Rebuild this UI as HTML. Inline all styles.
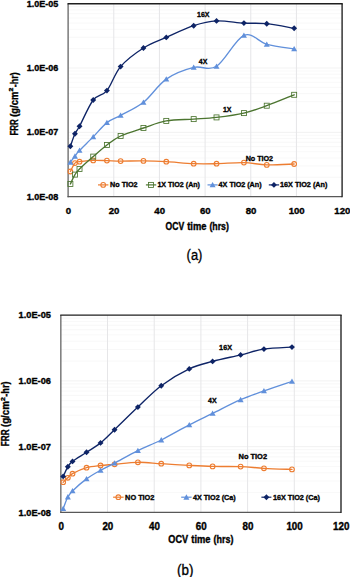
<!DOCTYPE html><html><head><meta charset="utf-8"><style>html,body{margin:0;padding:0;background:#fff;}svg{display:block;}</style></head><body><svg width="350" height="577" viewBox="0 0 350 577" font-family="'Liberation Sans', sans-serif" fill="#000"><rect width="350" height="577" fill="#fff"/><line x1="68.10" y1="177.33" x2="342.10" y2="177.33" stroke="#F4F4F4" stroke-width="0.6"/><line x1="68.10" y1="166.01" x2="342.10" y2="166.01" stroke="#F4F4F4" stroke-width="0.6"/><line x1="68.10" y1="157.97" x2="342.10" y2="157.97" stroke="#F4F4F4" stroke-width="0.6"/><line x1="68.10" y1="151.73" x2="342.10" y2="151.73" stroke="#F4F4F4" stroke-width="0.6"/><line x1="68.10" y1="146.64" x2="342.10" y2="146.64" stroke="#F4F4F4" stroke-width="0.6"/><line x1="68.10" y1="142.33" x2="342.10" y2="142.33" stroke="#F4F4F4" stroke-width="0.6"/><line x1="68.10" y1="138.60" x2="342.10" y2="138.60" stroke="#F4F4F4" stroke-width="0.6"/><line x1="68.10" y1="135.31" x2="342.10" y2="135.31" stroke="#F4F4F4" stroke-width="0.6"/><line x1="68.10" y1="132.37" x2="342.10" y2="132.37" stroke="#EAEAEA" stroke-width="0.6"/><line x1="68.10" y1="113.00" x2="342.10" y2="113.00" stroke="#F4F4F4" stroke-width="0.6"/><line x1="68.10" y1="101.67" x2="342.10" y2="101.67" stroke="#F4F4F4" stroke-width="0.6"/><line x1="68.10" y1="93.63" x2="342.10" y2="93.63" stroke="#F4F4F4" stroke-width="0.6"/><line x1="68.10" y1="87.40" x2="342.10" y2="87.40" stroke="#F4F4F4" stroke-width="0.6"/><line x1="68.10" y1="82.31" x2="342.10" y2="82.31" stroke="#F4F4F4" stroke-width="0.6"/><line x1="68.10" y1="78.00" x2="342.10" y2="78.00" stroke="#F4F4F4" stroke-width="0.6"/><line x1="68.10" y1="74.27" x2="342.10" y2="74.27" stroke="#F4F4F4" stroke-width="0.6"/><line x1="68.10" y1="70.98" x2="342.10" y2="70.98" stroke="#F4F4F4" stroke-width="0.6"/><line x1="68.10" y1="68.03" x2="342.10" y2="68.03" stroke="#EAEAEA" stroke-width="0.6"/><line x1="68.10" y1="48.67" x2="342.10" y2="48.67" stroke="#F4F4F4" stroke-width="0.6"/><line x1="68.10" y1="37.34" x2="342.10" y2="37.34" stroke="#F4F4F4" stroke-width="0.6"/><line x1="68.10" y1="29.30" x2="342.10" y2="29.30" stroke="#F4F4F4" stroke-width="0.6"/><line x1="68.10" y1="23.07" x2="342.10" y2="23.07" stroke="#F4F4F4" stroke-width="0.6"/><line x1="68.10" y1="17.97" x2="342.10" y2="17.97" stroke="#F4F4F4" stroke-width="0.6"/><line x1="68.10" y1="13.67" x2="342.10" y2="13.67" stroke="#F4F4F4" stroke-width="0.6"/><line x1="68.10" y1="9.93" x2="342.10" y2="9.93" stroke="#F4F4F4" stroke-width="0.6"/><line x1="68.10" y1="6.64" x2="342.10" y2="6.64" stroke="#F4F4F4" stroke-width="0.6"/><line x1="113.77" y1="3.70" x2="113.77" y2="196.70" stroke="#E6E6E8" stroke-width="1.0"/><line x1="159.43" y1="3.70" x2="159.43" y2="196.70" stroke="#E6E6E8" stroke-width="1.0"/><line x1="205.10" y1="3.70" x2="205.10" y2="196.70" stroke="#E6E6E8" stroke-width="1.0"/><line x1="250.77" y1="3.70" x2="250.77" y2="196.70" stroke="#E6E6E8" stroke-width="1.0"/><line x1="296.43" y1="3.70" x2="296.43" y2="196.70" stroke="#E6E6E8" stroke-width="1.0"/><line x1="68.10" y1="3.70" x2="68.10" y2="197.30" stroke="#585858" stroke-width="1.2"/><line x1="67.50" y1="196.70" x2="342.10" y2="196.70" stroke="#585858" stroke-width="1.2"/><line x1="67.50" y1="3.70" x2="342.75" y2="3.70" stroke="#1E1E1E" stroke-width="1.35"/><line x1="342.10" y1="3.70" x2="342.10" y2="197.35" stroke="#1E1E1E" stroke-width="1.35"/><path d="M70.38 171.50 C71.14 170.10 73.43 164.73 74.95 163.10 C76.47 161.47 76.47 162.15 79.52 161.70 C82.56 161.25 88.65 160.58 93.22 160.40 C97.78 160.22 102.35 160.48 106.92 160.60 C111.48 160.72 114.53 161.05 120.62 161.10 C126.71 161.15 135.84 160.80 143.45 160.90 C151.06 161.00 157.91 161.23 166.28 161.70 C174.66 162.17 185.31 163.37 193.68 163.70 C202.06 164.03 208.14 163.88 216.52 163.70 C224.89 163.52 235.54 162.40 243.92 162.60 C252.29 162.80 258.38 164.67 266.75 164.90 C275.12 165.13 289.58 164.15 294.15 164.00" fill="none" stroke="#ED7D31" stroke-width="1.35" stroke-linejoin="round" stroke-linecap="round"/><circle cx="70.38" cy="171.50" r="2.35" fill="none" stroke="#ED7D31" stroke-width="1.1"/><circle cx="74.95" cy="163.10" r="2.35" fill="none" stroke="#ED7D31" stroke-width="1.1"/><circle cx="79.52" cy="161.70" r="2.35" fill="none" stroke="#ED7D31" stroke-width="1.1"/><circle cx="93.22" cy="160.40" r="2.35" fill="none" stroke="#ED7D31" stroke-width="1.1"/><circle cx="106.92" cy="160.60" r="2.35" fill="none" stroke="#ED7D31" stroke-width="1.1"/><circle cx="120.62" cy="161.10" r="2.35" fill="none" stroke="#ED7D31" stroke-width="1.1"/><circle cx="143.45" cy="160.90" r="2.35" fill="none" stroke="#ED7D31" stroke-width="1.1"/><circle cx="166.28" cy="161.70" r="2.35" fill="none" stroke="#ED7D31" stroke-width="1.1"/><circle cx="193.68" cy="163.70" r="2.35" fill="none" stroke="#ED7D31" stroke-width="1.1"/><circle cx="216.52" cy="163.70" r="2.35" fill="none" stroke="#ED7D31" stroke-width="1.1"/><circle cx="243.92" cy="162.60" r="2.35" fill="none" stroke="#ED7D31" stroke-width="1.1"/><circle cx="266.75" cy="164.90" r="2.35" fill="none" stroke="#ED7D31" stroke-width="1.1"/><circle cx="294.15" cy="164.00" r="2.35" fill="none" stroke="#ED7D31" stroke-width="1.1"/><path d="M70.38 184.00 C71.14 182.43 73.43 177.10 74.95 174.60 C76.47 172.10 76.47 172.00 79.52 169.00 C82.56 166.00 88.65 160.60 93.22 156.60 C97.78 152.60 102.35 148.43 106.92 145.00 C111.48 141.57 114.53 138.83 120.62 136.00 C126.71 133.17 135.84 130.52 143.45 128.00 C151.06 125.48 157.91 122.38 166.28 120.90 C174.66 119.42 185.31 119.68 193.68 119.10 C202.06 118.52 208.14 118.40 216.52 117.40 C224.89 116.40 235.54 115.05 243.92 113.10 C252.29 111.15 258.38 108.75 266.75 105.70 C275.12 102.65 289.58 96.62 294.15 94.80" fill="none" stroke="#4C7530" stroke-width="1.35" stroke-linejoin="round" stroke-linecap="round"/><rect x="67.88" y="181.50" width="5.00" height="5.00" fill="none" stroke="#4C7530" stroke-width="0.85"/><rect x="72.45" y="172.10" width="5.00" height="5.00" fill="none" stroke="#4C7530" stroke-width="0.85"/><rect x="77.02" y="166.50" width="5.00" height="5.00" fill="none" stroke="#4C7530" stroke-width="0.85"/><rect x="90.72" y="154.10" width="5.00" height="5.00" fill="none" stroke="#4C7530" stroke-width="0.85"/><rect x="104.42" y="142.50" width="5.00" height="5.00" fill="none" stroke="#4C7530" stroke-width="0.85"/><rect x="118.12" y="133.50" width="5.00" height="5.00" fill="none" stroke="#4C7530" stroke-width="0.85"/><rect x="140.95" y="125.50" width="5.00" height="5.00" fill="none" stroke="#4C7530" stroke-width="0.85"/><rect x="163.78" y="118.40" width="5.00" height="5.00" fill="none" stroke="#4C7530" stroke-width="0.85"/><rect x="191.18" y="116.60" width="5.00" height="5.00" fill="none" stroke="#4C7530" stroke-width="0.85"/><rect x="214.02" y="114.90" width="5.00" height="5.00" fill="none" stroke="#4C7530" stroke-width="0.85"/><rect x="241.42" y="110.60" width="5.00" height="5.00" fill="none" stroke="#4C7530" stroke-width="0.85"/><rect x="264.25" y="103.20" width="5.00" height="5.00" fill="none" stroke="#4C7530" stroke-width="0.85"/><rect x="291.65" y="92.30" width="5.00" height="5.00" fill="none" stroke="#4C7530" stroke-width="0.85"/><path d="M70.38 162.20 C71.14 161.20 73.43 158.17 74.95 156.20 C76.47 154.23 76.47 153.62 79.52 150.40 C82.56 147.18 88.65 141.53 93.22 136.90 C97.78 132.27 102.35 126.18 106.92 122.60 C111.48 119.02 114.53 118.78 120.62 115.40 C126.71 112.02 135.84 108.35 143.45 102.30 C151.06 96.25 157.91 84.92 166.28 79.10 C174.66 73.28 185.31 69.53 193.68 67.40 C202.06 65.27 208.14 71.63 216.52 66.30 C224.89 60.97 235.54 39.07 243.92 35.40 C252.29 31.73 258.38 42.05 266.75 44.30 C275.12 46.55 289.58 48.13 294.15 48.90" fill="none" stroke="#6190DB" stroke-width="1.35" stroke-linejoin="round" stroke-linecap="round"/><path d="M70.38 159.30 L73.38 164.66 L67.38 164.66 Z" fill="#6190DB"/><path d="M74.95 153.30 L77.95 158.66 L71.95 158.66 Z" fill="#6190DB"/><path d="M79.52 147.50 L82.52 152.87 L76.52 152.87 Z" fill="#6190DB"/><path d="M93.22 134.00 L96.22 139.37 L90.22 139.37 Z" fill="#6190DB"/><path d="M106.92 119.70 L109.92 125.06 L103.92 125.06 Z" fill="#6190DB"/><path d="M120.62 112.50 L123.62 117.87 L117.62 117.87 Z" fill="#6190DB"/><path d="M143.45 99.40 L146.45 104.77 L140.45 104.77 Z" fill="#6190DB"/><path d="M166.28 76.20 L169.28 81.56 L163.28 81.56 Z" fill="#6190DB"/><path d="M193.68 64.50 L196.68 69.87 L190.68 69.87 Z" fill="#6190DB"/><path d="M216.52 63.40 L219.52 68.77 L213.52 68.77 Z" fill="#6190DB"/><path d="M243.92 32.50 L246.92 37.86 L240.92 37.86 Z" fill="#6190DB"/><path d="M266.75 41.40 L269.75 46.77 L263.75 46.77 Z" fill="#6190DB"/><path d="M294.15 46.00 L297.15 51.36 L291.15 51.36 Z" fill="#6190DB"/><path d="M70.38 146.20 C71.14 144.12 73.43 137.02 74.95 133.70 C76.47 130.38 76.47 131.92 79.52 126.30 C82.56 120.68 88.65 105.95 93.22 100.00 C97.78 94.05 102.35 96.17 106.92 90.60 C111.48 85.03 114.53 73.70 120.62 66.60 C126.71 59.50 135.84 52.87 143.45 48.00 C151.06 43.13 157.91 41.12 166.28 37.40 C174.66 33.68 185.31 28.45 193.68 25.70 C202.06 22.95 208.14 21.33 216.52 20.90 C224.89 20.47 235.54 22.63 243.92 23.10 C252.29 23.57 258.38 22.83 266.75 23.70 C275.12 24.57 289.58 27.53 294.15 28.30" fill="none" stroke="#0E2466" stroke-width="1.35" stroke-linejoin="round" stroke-linecap="round"/><path d="M70.38 143.25 L73.33 146.20 L70.38 149.15 L67.43 146.20 Z" fill="#0E2466"/><path d="M74.95 130.75 L77.90 133.70 L74.95 136.65 L72.00 133.70 Z" fill="#0E2466"/><path d="M79.52 123.35 L82.47 126.30 L79.52 129.25 L76.57 126.30 Z" fill="#0E2466"/><path d="M93.22 97.05 L96.17 100.00 L93.22 102.95 L90.27 100.00 Z" fill="#0E2466"/><path d="M106.92 87.65 L109.87 90.60 L106.92 93.55 L103.97 90.60 Z" fill="#0E2466"/><path d="M120.62 63.65 L123.57 66.60 L120.62 69.55 L117.67 66.60 Z" fill="#0E2466"/><path d="M143.45 45.05 L146.40 48.00 L143.45 50.95 L140.50 48.00 Z" fill="#0E2466"/><path d="M166.28 34.45 L169.23 37.40 L166.28 40.35 L163.33 37.40 Z" fill="#0E2466"/><path d="M193.68 22.75 L196.63 25.70 L193.68 28.65 L190.73 25.70 Z" fill="#0E2466"/><path d="M216.52 17.95 L219.47 20.90 L216.52 23.85 L213.57 20.90 Z" fill="#0E2466"/><path d="M243.92 20.15 L246.87 23.10 L243.92 26.05 L240.97 23.10 Z" fill="#0E2466"/><path d="M266.75 20.75 L269.70 23.70 L266.75 26.65 L263.80 23.70 Z" fill="#0E2466"/><path d="M294.15 25.35 L297.10 28.30 L294.15 31.25 L291.20 28.30 Z" fill="#0E2466"/><text x="26.70" y="6.77" font-size="9.40" font-weight="bold" text-anchor="start" textLength="31.50" lengthAdjust="spacingAndGlyphs" stroke="#000" stroke-width="0.36" >1.0E-05</text><text x="26.70" y="71.10" font-size="9.40" font-weight="bold" text-anchor="start" textLength="31.50" lengthAdjust="spacingAndGlyphs" stroke="#000" stroke-width="0.36" >1.0E-06</text><text x="26.70" y="135.43" font-size="9.40" font-weight="bold" text-anchor="start" textLength="31.50" lengthAdjust="spacingAndGlyphs" stroke="#000" stroke-width="0.36" >1.0E-07</text><text x="26.70" y="199.77" font-size="9.40" font-weight="bold" text-anchor="start" textLength="31.50" lengthAdjust="spacingAndGlyphs" stroke="#000" stroke-width="0.36" >1.0E-08</text><text x="65.67" y="213.80" font-size="9.80" font-weight="bold" text-anchor="start" textLength="5.35" lengthAdjust="spacingAndGlyphs" stroke="#000" stroke-width="0.36" >0</text><text x="108.67" y="213.80" font-size="9.80" font-weight="bold" text-anchor="start" textLength="10.70" lengthAdjust="spacingAndGlyphs" stroke="#000" stroke-width="0.36" >20</text><text x="154.33" y="213.80" font-size="9.80" font-weight="bold" text-anchor="start" textLength="10.70" lengthAdjust="spacingAndGlyphs" stroke="#000" stroke-width="0.36" >40</text><text x="200.00" y="213.80" font-size="9.80" font-weight="bold" text-anchor="start" textLength="10.70" lengthAdjust="spacingAndGlyphs" stroke="#000" stroke-width="0.36" >60</text><text x="245.67" y="213.80" font-size="9.80" font-weight="bold" text-anchor="start" textLength="10.70" lengthAdjust="spacingAndGlyphs" stroke="#000" stroke-width="0.36" >80</text><text x="288.66" y="213.80" font-size="9.80" font-weight="bold" text-anchor="start" textLength="16.05" lengthAdjust="spacingAndGlyphs" stroke="#000" stroke-width="0.36" >100</text><text x="334.33" y="213.80" font-size="9.80" font-weight="bold" text-anchor="start" textLength="16.05" lengthAdjust="spacingAndGlyphs" stroke="#000" stroke-width="0.36" >120</text><text x="165.60" y="229.60" font-size="10.00" font-weight="bold" text-anchor="start" textLength="18.60" lengthAdjust="spacingAndGlyphs" stroke="#000" stroke-width="0.36" >OCV</text><text x="187.20" y="229.60" font-size="10.00" font-weight="bold" text-anchor="start" textLength="19.30" lengthAdjust="spacingAndGlyphs" stroke="#000" stroke-width="0.36" >time</text><text x="209.40" y="229.60" font-size="10.00" font-weight="bold" text-anchor="start" textLength="19.50" lengthAdjust="spacingAndGlyphs" stroke="#000" stroke-width="0.36" >(hrs)</text><g transform="translate(17.70,135.60) rotate(-90)"><text x="0.00" y="0.00" font-size="10.20" font-weight="bold" text-anchor="start" textLength="16.40" lengthAdjust="spacingAndGlyphs" stroke="#000" stroke-width="0.36" >FRR</text><text x="18.80" y="0.00" font-size="10.20" font-weight="bold" text-anchor="start" textLength="25.20" lengthAdjust="spacingAndGlyphs" stroke="#000" stroke-width="0.36" >(g/cm</text><text x="48.40" y="0.00" font-size="10.20" font-weight="bold" text-anchor="start" textLength="14.90" lengthAdjust="spacingAndGlyphs" stroke="#000" stroke-width="0.36" >-hr)</text><text x="44.10" y="-4.30" font-size="5.60" font-weight="bold" text-anchor="start" textLength="3.80" lengthAdjust="spacingAndGlyphs" stroke="#000" stroke-width="0.36" >2</text></g><line x1="98.00" y1="184.90" x2="108.40" y2="184.90" stroke="#ED7D31" stroke-width="1.2"/><circle cx="103.20" cy="184.90" r="2.35" fill="none" stroke="#ED7D31" stroke-width="1.1"/><text x="110.00" y="187.20" font-size="8.00" font-weight="bold" text-anchor="start" textLength="27.60" lengthAdjust="spacingAndGlyphs" stroke="#000" stroke-width="0.36" >No TiO2</text><line x1="145.90" y1="184.90" x2="156.20" y2="184.90" stroke="#4C7530" stroke-width="1.2"/><rect x="148.55" y="182.40" width="5.00" height="5.00" fill="none" stroke="#4C7530" stroke-width="0.85"/><text x="157.40" y="187.20" font-size="8.00" font-weight="bold" text-anchor="start" textLength="42.60" lengthAdjust="spacingAndGlyphs" stroke="#000" stroke-width="0.36" >1X TiO2 (An)</text><line x1="207.50" y1="184.90" x2="217.70" y2="184.90" stroke="#6190DB" stroke-width="1.2"/><path d="M212.60 182.00 L215.60 187.37 L209.60 187.37 Z" fill="#6190DB"/><text x="218.60" y="187.20" font-size="8.00" font-weight="bold" text-anchor="start" textLength="43.00" lengthAdjust="spacingAndGlyphs" stroke="#000" stroke-width="0.36" >4X TiO2 (An)</text><line x1="268.80" y1="184.90" x2="279.10" y2="184.90" stroke="#0E2466" stroke-width="1.2"/><path d="M273.95 181.95 L276.90 184.90 L273.95 187.85 L271.00 184.90 Z" fill="#0E2466"/><text x="280.00" y="187.20" font-size="8.00" font-weight="bold" text-anchor="start" textLength="47.40" lengthAdjust="spacingAndGlyphs" stroke="#000" stroke-width="0.36" >16X TiO2 (An)</text><text x="197.00" y="16.90" font-size="8.00" font-weight="bold" text-anchor="start" textLength="12.40" lengthAdjust="spacingAndGlyphs" stroke="#000" stroke-width="0.36" >16X</text><text x="198.80" y="63.70" font-size="8.00" font-weight="bold" text-anchor="start" textLength="8.50" lengthAdjust="spacingAndGlyphs" stroke="#000" stroke-width="0.36" >4X</text><text x="222.90" y="111.80" font-size="8.00" font-weight="bold" text-anchor="start" textLength="8.50" lengthAdjust="spacingAndGlyphs" stroke="#000" stroke-width="0.36" >1X</text><text x="245.70" y="160.50" font-size="8.00" font-weight="bold" text-anchor="start" textLength="27.40" lengthAdjust="spacingAndGlyphs" stroke="#000" stroke-width="0.36" >No TiO2</text><text x="186.60" y="260.40" font-size="14.00" font-weight="normal" text-anchor="start" textLength="15.80" lengthAdjust="spacingAndGlyphs" stroke="#000" stroke-width="0.32" >(a)</text><line x1="60.85" y1="492.60" x2="341.00" y2="492.60" stroke="#F4F4F4" stroke-width="0.6"/><line x1="60.85" y1="481.02" x2="341.00" y2="481.02" stroke="#F4F4F4" stroke-width="0.6"/><line x1="60.85" y1="472.80" x2="341.00" y2="472.80" stroke="#F4F4F4" stroke-width="0.6"/><line x1="60.85" y1="466.43" x2="341.00" y2="466.43" stroke="#F4F4F4" stroke-width="0.6"/><line x1="60.85" y1="461.22" x2="341.00" y2="461.22" stroke="#F4F4F4" stroke-width="0.6"/><line x1="60.85" y1="456.82" x2="341.00" y2="456.82" stroke="#F4F4F4" stroke-width="0.6"/><line x1="60.85" y1="453.01" x2="341.00" y2="453.01" stroke="#F4F4F4" stroke-width="0.6"/><line x1="60.85" y1="449.64" x2="341.00" y2="449.64" stroke="#F4F4F4" stroke-width="0.6"/><line x1="60.85" y1="446.63" x2="341.00" y2="446.63" stroke="#EAEAEA" stroke-width="0.6"/><line x1="60.85" y1="426.84" x2="341.00" y2="426.84" stroke="#F4F4F4" stroke-width="0.6"/><line x1="60.85" y1="415.25" x2="341.00" y2="415.25" stroke="#F4F4F4" stroke-width="0.6"/><line x1="60.85" y1="407.04" x2="341.00" y2="407.04" stroke="#F4F4F4" stroke-width="0.6"/><line x1="60.85" y1="400.66" x2="341.00" y2="400.66" stroke="#F4F4F4" stroke-width="0.6"/><line x1="60.85" y1="395.46" x2="341.00" y2="395.46" stroke="#F4F4F4" stroke-width="0.6"/><line x1="60.85" y1="391.05" x2="341.00" y2="391.05" stroke="#F4F4F4" stroke-width="0.6"/><line x1="60.85" y1="387.24" x2="341.00" y2="387.24" stroke="#F4F4F4" stroke-width="0.6"/><line x1="60.85" y1="383.88" x2="341.00" y2="383.88" stroke="#F4F4F4" stroke-width="0.6"/><line x1="60.85" y1="380.87" x2="341.00" y2="380.87" stroke="#EAEAEA" stroke-width="0.6"/><line x1="60.85" y1="361.07" x2="341.00" y2="361.07" stroke="#F4F4F4" stroke-width="0.6"/><line x1="60.85" y1="349.49" x2="341.00" y2="349.49" stroke="#F4F4F4" stroke-width="0.6"/><line x1="60.85" y1="341.27" x2="341.00" y2="341.27" stroke="#F4F4F4" stroke-width="0.6"/><line x1="60.85" y1="334.90" x2="341.00" y2="334.90" stroke="#F4F4F4" stroke-width="0.6"/><line x1="60.85" y1="329.69" x2="341.00" y2="329.69" stroke="#F4F4F4" stroke-width="0.6"/><line x1="60.85" y1="325.29" x2="341.00" y2="325.29" stroke="#F4F4F4" stroke-width="0.6"/><line x1="60.85" y1="321.47" x2="341.00" y2="321.47" stroke="#F4F4F4" stroke-width="0.6"/><line x1="60.85" y1="318.11" x2="341.00" y2="318.11" stroke="#F4F4F4" stroke-width="0.6"/><line x1="107.54" y1="315.10" x2="107.54" y2="512.40" stroke="#E6E6E8" stroke-width="1.0"/><line x1="154.23" y1="315.10" x2="154.23" y2="512.40" stroke="#E6E6E8" stroke-width="1.0"/><line x1="200.92" y1="315.10" x2="200.92" y2="512.40" stroke="#E6E6E8" stroke-width="1.0"/><line x1="247.62" y1="315.10" x2="247.62" y2="512.40" stroke="#E6E6E8" stroke-width="1.0"/><line x1="294.31" y1="315.10" x2="294.31" y2="512.40" stroke="#E6E6E8" stroke-width="1.0"/><line x1="60.85" y1="315.10" x2="60.85" y2="513.00" stroke="#585858" stroke-width="1.2"/><line x1="60.25" y1="512.40" x2="341.00" y2="512.40" stroke="#585858" stroke-width="1.2"/><line x1="60.25" y1="315.10" x2="341.65" y2="315.10" stroke="#1E1E1E" stroke-width="1.35"/><line x1="341.00" y1="315.10" x2="341.00" y2="513.05" stroke="#1E1E1E" stroke-width="1.35"/><path d="M63.18 482.20 C63.96 481.47 66.30 479.22 67.85 477.80 C69.41 476.38 69.41 475.38 72.52 473.70 C75.64 472.02 81.86 469.07 86.53 467.70 C91.20 466.33 95.87 466.07 100.54 465.50 C105.21 464.93 108.32 464.83 114.55 464.30 C120.77 463.77 130.11 462.40 137.89 462.30 C145.67 462.20 152.68 463.18 161.24 463.70 C169.80 464.22 180.69 464.95 189.25 465.40 C197.81 465.85 204.04 466.20 212.60 466.40 C221.16 466.60 232.05 466.28 240.61 466.60 C249.17 466.92 255.40 467.83 263.96 468.30 C272.52 468.77 287.30 469.22 291.97 469.40" fill="none" stroke="#ED7D31" stroke-width="1.35" stroke-linejoin="round" stroke-linecap="round"/><circle cx="63.18" cy="482.20" r="2.35" fill="none" stroke="#ED7D31" stroke-width="1.1"/><circle cx="67.85" cy="477.80" r="2.35" fill="none" stroke="#ED7D31" stroke-width="1.1"/><circle cx="72.52" cy="473.70" r="2.35" fill="none" stroke="#ED7D31" stroke-width="1.1"/><circle cx="86.53" cy="467.70" r="2.35" fill="none" stroke="#ED7D31" stroke-width="1.1"/><circle cx="100.54" cy="465.50" r="2.35" fill="none" stroke="#ED7D31" stroke-width="1.1"/><circle cx="114.55" cy="464.30" r="2.35" fill="none" stroke="#ED7D31" stroke-width="1.1"/><circle cx="137.89" cy="462.30" r="2.35" fill="none" stroke="#ED7D31" stroke-width="1.1"/><circle cx="161.24" cy="463.70" r="2.35" fill="none" stroke="#ED7D31" stroke-width="1.1"/><circle cx="189.25" cy="465.40" r="2.35" fill="none" stroke="#ED7D31" stroke-width="1.1"/><circle cx="212.60" cy="466.40" r="2.35" fill="none" stroke="#ED7D31" stroke-width="1.1"/><circle cx="240.61" cy="466.60" r="2.35" fill="none" stroke="#ED7D31" stroke-width="1.1"/><circle cx="263.96" cy="468.30" r="2.35" fill="none" stroke="#ED7D31" stroke-width="1.1"/><circle cx="291.97" cy="469.40" r="2.35" fill="none" stroke="#ED7D31" stroke-width="1.1"/><path d="M63.18 508.60 C63.96 506.67 66.30 499.95 67.85 497.00 C69.41 494.05 69.41 493.92 72.52 490.90 C75.64 487.88 81.86 482.33 86.53 478.90 C91.20 475.47 95.87 472.93 100.54 470.30 C105.21 467.67 108.32 466.38 114.55 463.10 C120.77 459.82 130.11 454.45 137.89 450.60 C145.67 446.75 152.68 444.28 161.24 440.00 C169.80 435.72 180.69 429.33 189.25 424.90 C197.81 420.47 204.04 417.60 212.60 413.40 C221.16 409.20 232.05 403.45 240.61 399.70 C249.17 395.95 255.40 393.95 263.96 390.90 C272.52 387.85 287.30 382.98 291.97 381.40" fill="none" stroke="#6190DB" stroke-width="1.35" stroke-linejoin="round" stroke-linecap="round"/><path d="M63.18 505.70 L66.18 511.06 L60.18 511.06 Z" fill="#6190DB"/><path d="M67.85 494.10 L70.85 499.46 L64.85 499.46 Z" fill="#6190DB"/><path d="M72.52 488.00 L75.52 493.36 L69.52 493.36 Z" fill="#6190DB"/><path d="M86.53 476.00 L89.53 481.36 L83.53 481.36 Z" fill="#6190DB"/><path d="M100.54 467.40 L103.54 472.76 L97.54 472.76 Z" fill="#6190DB"/><path d="M114.55 460.20 L117.55 465.56 L111.55 465.56 Z" fill="#6190DB"/><path d="M137.89 447.70 L140.89 453.06 L134.89 453.06 Z" fill="#6190DB"/><path d="M161.24 437.10 L164.24 442.46 L158.24 442.46 Z" fill="#6190DB"/><path d="M189.25 422.00 L192.25 427.36 L186.25 427.36 Z" fill="#6190DB"/><path d="M212.60 410.50 L215.60 415.86 L209.60 415.86 Z" fill="#6190DB"/><path d="M240.61 396.80 L243.61 402.16 L237.61 402.16 Z" fill="#6190DB"/><path d="M263.96 388.00 L266.96 393.36 L260.96 393.36 Z" fill="#6190DB"/><path d="M291.97 378.50 L294.97 383.86 L288.97 383.86 Z" fill="#6190DB"/><path d="M63.18 476.40 C63.96 474.80 66.30 469.30 67.85 466.80 C69.41 464.30 69.41 463.82 72.52 461.40 C75.64 458.98 81.86 455.38 86.53 452.30 C91.20 449.22 95.87 446.67 100.54 442.90 C105.21 439.13 108.32 435.67 114.55 429.70 C120.77 423.73 130.11 414.43 137.89 407.10 C145.67 399.77 152.68 392.07 161.24 385.70 C169.80 379.33 180.69 372.95 189.25 368.90 C197.81 364.85 204.04 363.73 212.60 361.40 C221.16 359.07 232.05 356.95 240.61 354.90 C249.17 352.85 255.40 350.40 263.96 349.10 C272.52 347.80 287.30 347.43 291.97 347.10" fill="none" stroke="#0E2466" stroke-width="1.35" stroke-linejoin="round" stroke-linecap="round"/><path d="M63.18 473.45 L66.13 476.40 L63.18 479.35 L60.23 476.40 Z" fill="#0E2466"/><path d="M67.85 463.85 L70.80 466.80 L67.85 469.75 L64.90 466.80 Z" fill="#0E2466"/><path d="M72.52 458.45 L75.47 461.40 L72.52 464.35 L69.57 461.40 Z" fill="#0E2466"/><path d="M86.53 449.35 L89.48 452.30 L86.53 455.25 L83.58 452.30 Z" fill="#0E2466"/><path d="M100.54 439.95 L103.49 442.90 L100.54 445.85 L97.59 442.90 Z" fill="#0E2466"/><path d="M114.55 426.75 L117.50 429.70 L114.55 432.65 L111.60 429.70 Z" fill="#0E2466"/><path d="M137.89 404.15 L140.84 407.10 L137.89 410.05 L134.94 407.10 Z" fill="#0E2466"/><path d="M161.24 382.75 L164.19 385.70 L161.24 388.65 L158.29 385.70 Z" fill="#0E2466"/><path d="M189.25 365.95 L192.20 368.90 L189.25 371.85 L186.30 368.90 Z" fill="#0E2466"/><path d="M212.60 358.45 L215.55 361.40 L212.60 364.35 L209.65 361.40 Z" fill="#0E2466"/><path d="M240.61 351.95 L243.56 354.90 L240.61 357.85 L237.66 354.90 Z" fill="#0E2466"/><path d="M263.96 346.15 L266.91 349.10 L263.96 352.05 L261.01 349.10 Z" fill="#0E2466"/><path d="M291.97 344.15 L294.92 347.10 L291.97 350.05 L289.02 347.10 Z" fill="#0E2466"/><text x="18.60" y="318.24" font-size="9.60" font-weight="bold" text-anchor="start" textLength="32.30" lengthAdjust="spacingAndGlyphs" stroke="#000" stroke-width="0.36" >1.0E-05</text><text x="18.60" y="384.00" font-size="9.60" font-weight="bold" text-anchor="start" textLength="32.30" lengthAdjust="spacingAndGlyphs" stroke="#000" stroke-width="0.36" >1.0E-06</text><text x="18.60" y="449.77" font-size="9.60" font-weight="bold" text-anchor="start" textLength="32.30" lengthAdjust="spacingAndGlyphs" stroke="#000" stroke-width="0.36" >1.0E-07</text><text x="18.60" y="515.54" font-size="9.60" font-weight="bold" text-anchor="start" textLength="32.30" lengthAdjust="spacingAndGlyphs" stroke="#000" stroke-width="0.36" >1.0E-08</text><text x="58.42" y="529.90" font-size="10.00" font-weight="bold" text-anchor="start" textLength="5.45" lengthAdjust="spacingAndGlyphs" stroke="#000" stroke-width="0.36" >0</text><text x="102.39" y="529.90" font-size="10.00" font-weight="bold" text-anchor="start" textLength="10.90" lengthAdjust="spacingAndGlyphs" stroke="#000" stroke-width="0.36" >20</text><text x="149.08" y="529.90" font-size="10.00" font-weight="bold" text-anchor="start" textLength="10.90" lengthAdjust="spacingAndGlyphs" stroke="#000" stroke-width="0.36" >40</text><text x="195.78" y="529.90" font-size="10.00" font-weight="bold" text-anchor="start" textLength="10.90" lengthAdjust="spacingAndGlyphs" stroke="#000" stroke-width="0.36" >60</text><text x="242.47" y="529.90" font-size="10.00" font-weight="bold" text-anchor="start" textLength="10.90" lengthAdjust="spacingAndGlyphs" stroke="#000" stroke-width="0.36" >80</text><text x="286.43" y="529.90" font-size="10.00" font-weight="bold" text-anchor="start" textLength="16.35" lengthAdjust="spacingAndGlyphs" stroke="#000" stroke-width="0.36" >100</text><text x="333.12" y="529.90" font-size="10.00" font-weight="bold" text-anchor="start" textLength="16.35" lengthAdjust="spacingAndGlyphs" stroke="#000" stroke-width="0.36" >120</text><text x="168.30" y="542.80" font-size="10.20" font-weight="bold" text-anchor="start" textLength="19.80" lengthAdjust="spacingAndGlyphs" stroke="#000" stroke-width="0.36" >OCV</text><text x="191.30" y="542.80" font-size="10.20" font-weight="bold" text-anchor="start" textLength="19.20" lengthAdjust="spacingAndGlyphs" stroke="#000" stroke-width="0.36" >time</text><text x="213.60" y="542.80" font-size="10.20" font-weight="bold" text-anchor="start" textLength="19.80" lengthAdjust="spacingAndGlyphs" stroke="#000" stroke-width="0.36" >(hrs)</text><g transform="translate(9.30,446.20) rotate(-90)"><text x="0.00" y="0.00" font-size="10.40" font-weight="bold" text-anchor="start" textLength="16.80" lengthAdjust="spacingAndGlyphs" stroke="#000" stroke-width="0.36" >FRR</text><text x="19.20" y="0.00" font-size="10.40" font-weight="bold" text-anchor="start" textLength="25.80" lengthAdjust="spacingAndGlyphs" stroke="#000" stroke-width="0.36" >(g/cm</text><text x="49.50" y="0.00" font-size="10.40" font-weight="bold" text-anchor="start" textLength="15.30" lengthAdjust="spacingAndGlyphs" stroke="#000" stroke-width="0.36" >-hr)</text><text x="45.10" y="-4.40" font-size="5.70" font-weight="bold" text-anchor="start" textLength="3.90" lengthAdjust="spacingAndGlyphs" stroke="#000" stroke-width="0.36" >2</text></g><line x1="113.10" y1="497.20" x2="123.60" y2="497.20" stroke="#ED7D31" stroke-width="1.2"/><circle cx="118.35" cy="497.20" r="2.35" fill="none" stroke="#ED7D31" stroke-width="1.1"/><text x="125.10" y="499.50" font-size="8.10" font-weight="bold" text-anchor="start" textLength="29.20" lengthAdjust="spacingAndGlyphs" stroke="#000" stroke-width="0.36" >NO TiO2</text><line x1="181.20" y1="497.20" x2="191.60" y2="497.20" stroke="#6190DB" stroke-width="1.2"/><path d="M186.40 494.30 L189.40 499.66 L183.40 499.66 Z" fill="#6190DB"/><text x="192.90" y="499.50" font-size="8.10" font-weight="bold" text-anchor="start" textLength="42.80" lengthAdjust="spacingAndGlyphs" stroke="#000" stroke-width="0.36" >4X TiO2 (Ca)</text><line x1="261.40" y1="497.20" x2="271.40" y2="497.20" stroke="#0E2466" stroke-width="1.2"/><path d="M266.40 494.25 L269.35 497.20 L266.40 500.15 L263.45 497.20 Z" fill="#0E2466"/><text x="272.90" y="499.50" font-size="8.10" font-weight="bold" text-anchor="start" textLength="47.10" lengthAdjust="spacingAndGlyphs" stroke="#000" stroke-width="0.36" >16X TiO2 (Ca)</text><text x="219.10" y="349.50" font-size="8.10" font-weight="bold" text-anchor="start" textLength="12.90" lengthAdjust="spacingAndGlyphs" stroke="#000" stroke-width="0.36" >16X</text><text x="208.00" y="402.70" font-size="8.10" font-weight="bold" text-anchor="start" textLength="8.60" lengthAdjust="spacingAndGlyphs" stroke="#000" stroke-width="0.36" >4X</text><text x="238.60" y="458.60" font-size="8.10" font-weight="bold" text-anchor="start" textLength="28.50" lengthAdjust="spacingAndGlyphs" stroke="#000" stroke-width="0.36" >No TiO2</text><text x="177.00" y="574.50" font-size="14.00" font-weight="normal" text-anchor="start" textLength="16.40" lengthAdjust="spacingAndGlyphs" stroke="#000" stroke-width="0.32" >(b)</text></svg></body></html>
